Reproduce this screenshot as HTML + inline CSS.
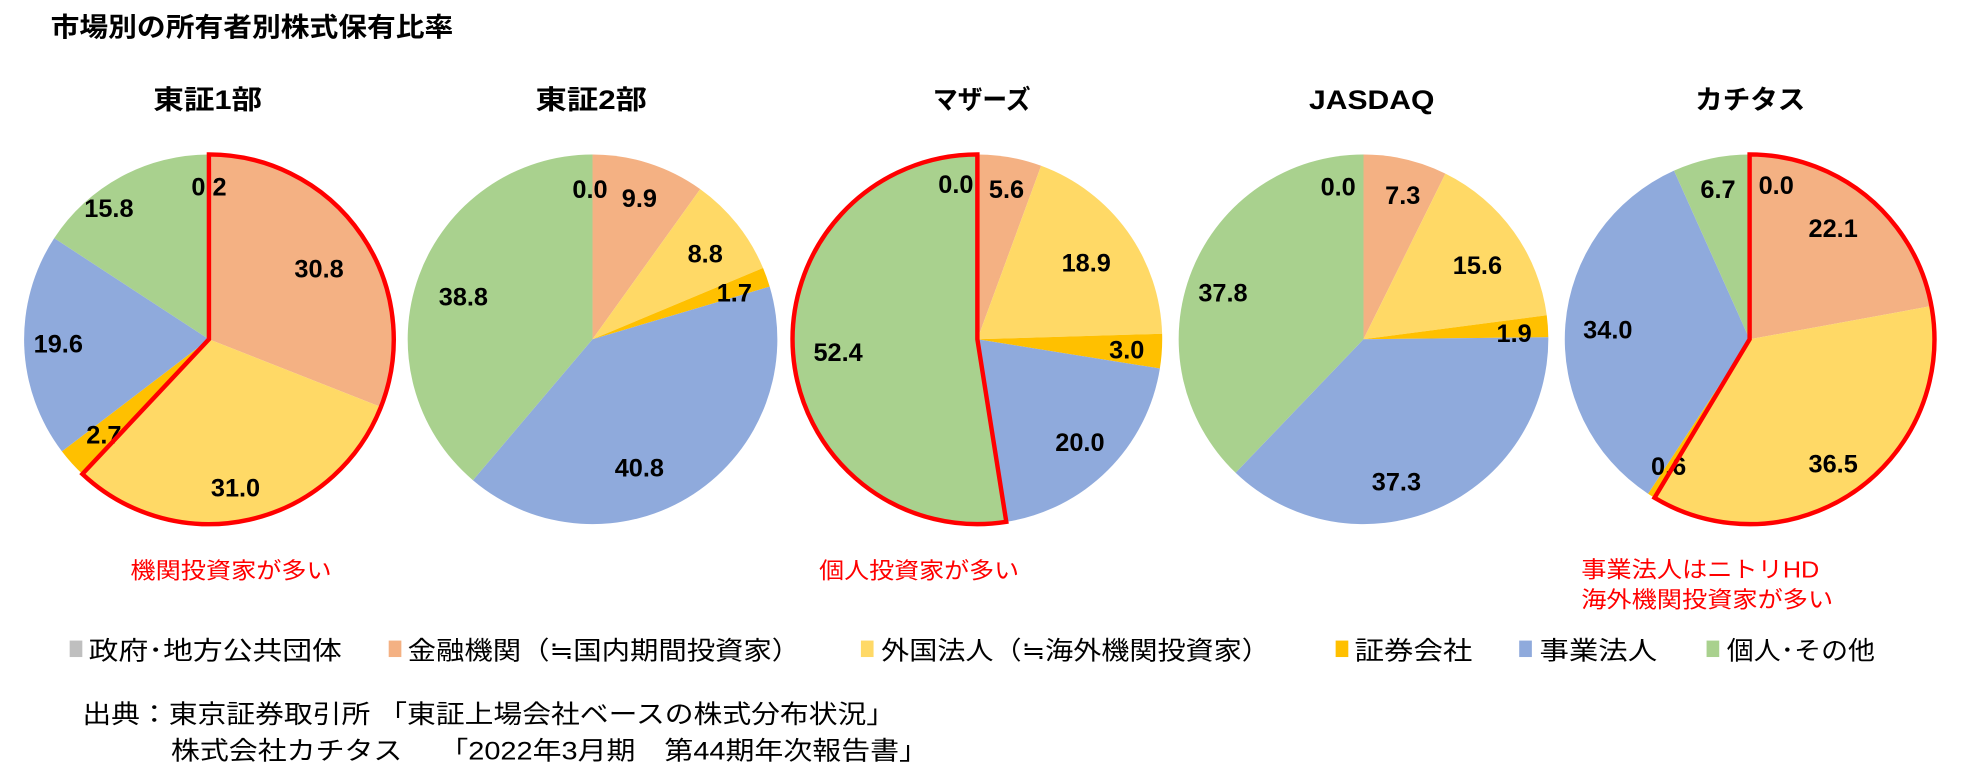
<!DOCTYPE html>
<html><head><meta charset="utf-8"><style>
html,body{margin:0;padding:0;background:#fff;}
svg{display:block;}
text{font-family:"Liberation Sans","Noto Sans CJK JP",sans-serif;}
.t{font-weight:bold;font-size:21px;}
.l{font-weight:bold;font-size:20px;text-anchor:middle;dominant-baseline:central;}
.r{fill:#ff0000;font-size:18px;}
.g{font-size:20px;}
</style></head><body>
<svg id="s" width="1975" height="783" viewBox="0 0 1560 618.5" xmlns="http://www.w3.org/2000/svg">
<g id="pies"></g>
<text class="t" x="40" y="29" textLength="318" lengthAdjust="spacingAndGlyphs">市場別の所有者別株式保有比率</text>
<g class="t">
<text x="121" y="86" textLength="86" lengthAdjust="spacingAndGlyphs">東証1部</text>
<text x="423" y="86" textLength="88" lengthAdjust="spacingAndGlyphs">東証2部</text>
<text x="737" y="86" textLength="77" lengthAdjust="spacingAndGlyphs">マザーズ</text>
<text x="1034" y="86" textLength="99" lengthAdjust="spacingAndGlyphs">JASDAQ</text>
<text x="1339" y="86" textLength="87" lengthAdjust="spacingAndGlyphs">カチタス</text>
</g>
<g class="l">
<text x="165" y="148">0.2</text><text x="252" y="213">30.8</text><text x="186" y="386">31.0</text><text x="82" y="344">2.7</text><text x="46" y="272">19.6</text><text x="86" y="165">15.8</text>
<text x="466" y="150">0.0</text><text x="505" y="157">9.9</text><text x="557" y="201">8.8</text><text x="580" y="232">1.7</text><text x="505" y="370">40.8</text><text x="366" y="235">38.8</text>
<text x="755" y="146">0.0</text><text x="795" y="150">5.6</text><text x="858" y="208">18.9</text><text x="890" y="277">3.0</text><text x="853" y="350">20.0</text><text x="662" y="279">52.4</text>
<text x="1057" y="148">0.0</text><text x="1108" y="155">7.3</text><text x="1167" y="210">15.6</text><text x="1196" y="264">1.9</text><text x="1103" y="381">37.3</text><text x="966" y="232">37.8</text>
<text x="1403" y="147">0.0</text><text x="1448" y="181">22.1</text><text x="1448" y="367">36.5</text><text x="1318" y="369">0.6</text><text x="1270" y="261">34.0</text><text x="1357" y="150">6.7</text>
</g>
<g class="r">
<text x="103" y="457" textLength="159" lengthAdjust="spacingAndGlyphs">機関投資家が多い</text>
<text x="647" y="457" textLength="158" lengthAdjust="spacingAndGlyphs">個人投資家が多い</text>
<text x="1249" y="456" textLength="188" lengthAdjust="spacingAndGlyphs">事業法人はニトリHD</text>
<text x="1249" y="480" textLength="199" lengthAdjust="spacingAndGlyphs">海外機関投資家が多い</text>
</g>
<g class="g">
<rect x="55" y="506" width="10" height="13" fill="#bfbfbf"/><text x="70" y="521" textLength="200" lengthAdjust="spacingAndGlyphs">政府･地方公共団体</text>
<rect x="307" y="506" width="10" height="13" fill="#f4b183"/><text x="322" y="521" textLength="310" lengthAdjust="spacingAndGlyphs">金融機関（≒国内期間投資家）</text>
<rect x="680" y="506" width="10" height="13" fill="#ffd966"/><text x="696" y="521" textLength="307" lengthAdjust="spacingAndGlyphs">外国法人（≒海外機関投資家）</text>
<rect x="1055" y="506" width="10" height="13" fill="#ffc000"/><text x="1070" y="521" textLength="93" lengthAdjust="spacingAndGlyphs">証券会社</text>
<rect x="1200" y="506" width="10" height="13" fill="#8faadc"/><text x="1216" y="521" textLength="93" lengthAdjust="spacingAndGlyphs">事業法人</text>
<rect x="1348" y="506" width="10" height="13" fill="#a9d18e"/><text x="1364" y="521" textLength="117" lengthAdjust="spacingAndGlyphs">個人･その他</text>
<text x="65" y="571" textLength="642" lengthAdjust="spacingAndGlyphs">出典：東京証券取引所 「東証上場会社ベースの株式分布状況」</text>
<text x="135" y="600" textLength="598" lengthAdjust="spacingAndGlyphs">株式会社カチタス　 「2022年3月期　第44期年次報告書」</text>
</g>
<g id="red"></g>
</svg>
<script>
var cols=["#bfbfbf","#f4b183","#ffd966","#ffc000","#8faadc","#a9d18e"];
var data=[[165,[0.2,30.8,31.0,2.7,19.6,15.8],[0,62]],[468,[0,9.9,8.8,1.7,40.8,38.8],null],[772,[0,5.6,18.9,3.0,20.0,52.4],[47.5,100]],[1077,[0,7.3,15.6,1.9,37.3,37.8],null],[1382,[0,22.1,36.5,0.6,34.0,6.7],[0,58.6]]];
var cy=268,R=146,ns="http://www.w3.org/2000/svg";
function pt(cx,p){var a=p/100*2*Math.PI;return [cx+R*Math.sin(a),cy-R*Math.cos(a)];}
function arc(cx,a,b){var s=pt(cx,a),e=pt(cx,b);var lg=(b-a)>50?1:0;return "M"+cx+","+cy+"L"+s[0]+","+s[1]+"A"+R+","+R+" 0 "+lg+" 1 "+e[0]+","+e[1]+"Z";}
var g=document.getElementById("pies"),rg=document.getElementById("red");
data.forEach(function(d){var tot=d[1].reduce(function(a,b){return a+b},0);var c=0;
d[1].forEach(function(v,i){if(v<=0)return;var a=c/tot*100,b=(c+v)/tot*100;c+=v;var p=document.createElementNS(ns,"path");p.setAttribute("d",arc(d[0],a,b));p.setAttribute("fill",cols[i]);g.appendChild(p);});
if(d[2]){var p=document.createElementNS(ns,"path");p.setAttribute("d",arc(d[0],d[2][0],d[2][1]));p.setAttribute("fill","none");p.setAttribute("stroke","#ff0000");p.setAttribute("stroke-width","3.5");p.setAttribute("stroke-linejoin","miter");rg.appendChild(p);}
});
</script>
</body></html>
